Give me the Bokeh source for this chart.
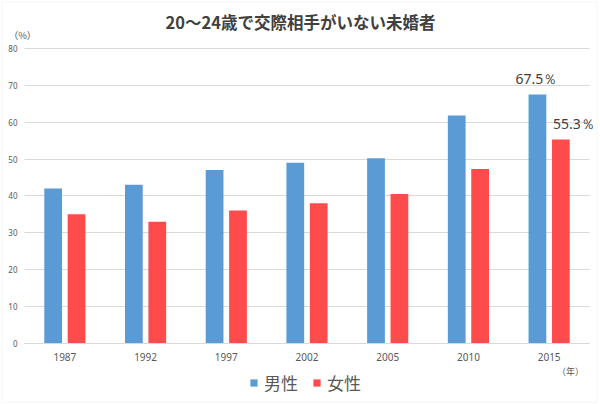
from bokeh.plotting import figure
from bokeh.models import (ColumnDataSource, Range1d, Legend, LegendItem, Label,
                          LabelSet, FixedTicker, Grid, BoxAnnotation)
from bokeh.core.properties import value
from bokeh.transform import dodge
from bokeh.embed import file_html
from bokeh.resources import INLINE

# ---- data ----
title_text = "20～24歳で交際相手がいない未婚者"
years = ["1987", "1992", "1997", "2002", "2005", "2010", "2015"]
male = [42.0, 43.0, 47.0, 49.0, 50.2, 61.8, 67.5]
female = [35.0, 33.0, 36.0, 38.0, 40.5, 47.3, 55.3]
series_names = ["男性", "女性"]
y_ticks = [0, 10, 20, 30, 40, 50, 60, 70, 80]
y_unit = "（%）"
x_unit = "（年）"

BLUE = "#5B9BD5"
RED = "#FF4B4B"
TXT = "#404040"
TICK = "#595959"
GRID = "#D9D9D9"

# ---- layout (pixels of the 600x404 canvas) ----
W, H = 600, 404
PLOT_L, PLOT_R, PLOT_T, PLOT_B = 24, 589, 48, 342.7
n = len(years)
x_lo, x_hi = -0.5, n - 0.5
y_lo, y_hi = y_ticks[0], y_ticks[-1]
kx = (PLOT_R - PLOT_L) / (x_hi - x_lo)
ky = (PLOT_B - PLOT_T) / (y_hi - y_lo)


def px2x(px):
    return x_lo + (px - PLOT_L) / kx


def px2y(py):
    return y_lo + (PLOT_B - py) / ky


xs = list(range(n))
src = ColumnDataSource(dict(x=xs, year=years, male=male, female=female))

p = figure(x_range=Range1d(px2x(0), px2x(W)), y_range=Range1d(px2y(H), px2y(0)),
           width=W, height=H, output_backend="svg", toolbar_location=None,
           min_border=0, min_border_left=0, min_border_right=0,
           min_border_top=0, min_border_bottom=0)
p.outline_line_color = None
p.background_fill_color = "white"
p.border_fill_color = "white"

# chart-area border of the picture
p.add_layout(BoxAnnotation(left=px2x(1.5), right=px2x(596.5), top=px2y(1.5), bottom=px2y(401.5),
                           fill_alpha=0, line_color="#DADADA", line_width=1))

# grid limited to the plotting area
p.xgrid.grid_line_color = None
p.ygrid.grid_line_color = GRID
p.ygrid.grid_line_width = 1
if "cross_bounds" in Grid.properties():
    p.ygrid.cross_bounds = (x_lo, x_hi)

r_m = p.vbar(x=dodge("x", -0.145), top="male", width=0.22,
             source=src, fill_color=BLUE, line_color=None)
r_f = p.vbar(x=dodge("x", 0.145), top="female", width=0.22,
             source=src, fill_color=RED, line_color=None)

# y axis
p.yaxis.fixed_location = x_lo
p.yaxis.bounds = (y_lo, y_hi)
p.yaxis.ticker = FixedTicker(ticks=y_ticks)
p.yaxis.axis_line_color = None
p.yaxis.major_tick_line_color = None
p.yaxis.minor_tick_line_color = None
p.yaxis.major_tick_out = 0
p.yaxis.major_tick_in = 0
p.yaxis.major_label_standoff = 7
p.yaxis.major_label_text_font = "Noto Sans"
p.yaxis.major_label_text_font_size = "8px"
p.yaxis.major_label_text_color = TICK

# x axis
p.xaxis.fixed_location = y_lo
p.xaxis.bounds = (x_lo, x_hi)
p.xaxis.ticker = FixedTicker(ticks=xs)
p.xaxis.major_label_overrides = {i: y for i, y in zip(xs, years)}
p.xaxis.axis_line_color = GRID
p.xaxis.major_tick_line_color = None
p.xaxis.minor_tick_line_color = None
p.xaxis.major_tick_out = 0
p.xaxis.major_tick_in = 0
p.xaxis.major_label_standoff = 10
p.xaxis.major_label_text_font = "Noto Sans"
p.xaxis.major_label_text_font_size = "10px"
p.xaxis.major_label_text_color = TICK

# value labels for last year
lab_src = ColumnDataSource(dict(
    x=[xs[-1]], male=[male[-1]], female=[female[-1]],
    mtxt=[f"{male[-1]}％"], ftxt=[f"{female[-1]}％"]))
p.add_layout(LabelSet(x=dodge("x", -0.145), y="male", text="mtxt",
                      source=lab_src, text_align="center", text_baseline="middle",
                      y_offset=16, x_offset=-1, text_font=value("Noto Sans"),
                      text_font_size="14px", text_color=TXT))
p.add_layout(LabelSet(x=dodge("x", 0.145), y="female", text="ftxt",
                      source=lab_src, text_align="center", text_baseline="middle",
                      y_offset=16, x_offset=13, text_font=value("Noto Sans"),
                      text_font_size="14px", text_color=TXT))

# title and unit labels
p.add_layout(Label(x=px2x(300), y=px2y(21), text=title_text,
                   text_align="center", text_baseline="middle",
                   text_font="Noto Sans CJK JP", text_font_style="bold",
                   text_font_size="16.5px", text_color=TXT))
p.add_layout(Label(x=px2x(22), y=px2y(34), text=y_unit,
                   text_align="center", text_baseline="middle",
                   text_font="Noto Sans CJK JP", text_font_size="9.5px", text_color=TICK))
p.add_layout(Label(x=px2x(570), y=px2y(371), text=x_unit,
                   text_align="center", text_baseline="middle",
                   text_font="Noto Sans CJK JP", text_font_size="9px", text_color=TICK))

legend = Legend(items=[LegendItem(label=series_names[0], renderers=[r_m]),
                       LegendItem(label=series_names[1], renderers=[r_f])],
                orientation="horizontal", location=(249, 9),
                glyph_width=9, glyph_height=9, label_standoff=6, spacing=14,
                padding=0, margin=0, border_line_color=None, background_fill_alpha=0,
                label_text_font="Noto Sans CJK JP", label_text_font_size="17px",
                label_text_color=TICK)
p.add_layout(legend)

open("out.html", "w").write(file_html(p, INLINE))
